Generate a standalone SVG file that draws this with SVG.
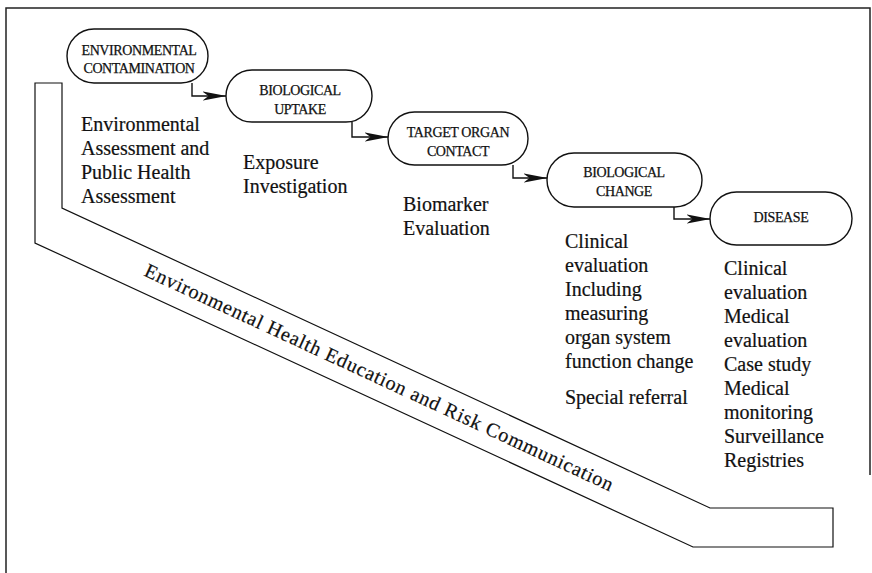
<svg xmlns="http://www.w3.org/2000/svg" width="872" height="573" viewBox="0 0 872 573">
<style>
  .node rect { fill: #fff; stroke: #111; stroke-width: 1.4; }
  .nl { font-family: "Liberation Serif", "Times New Roman", serif; font-size: 14px; letter-spacing: -0.4px; fill: #111; stroke: #111; stroke-width: 0.25; text-anchor: middle; }
  .body { font-family: "Liberation Serif", "Times New Roman", serif; font-size: 20px; fill: #111; stroke: #111; stroke-width: 0.2; }
  .band { fill: #fff; stroke: #111; stroke-width: 1.2; stroke-linejoin: miter; }
  .conn path { fill: none; stroke: #111; stroke-width: 1.4; }
  .frame { fill: none; stroke: #222; stroke-width: 1.5; }
</style>
<defs>
  <marker id="arr" viewBox="0 0 24 10" markerWidth="24" markerHeight="10" refX="23.5" refY="5" orient="auto" markerUnits="userSpaceOnUse">
    <path d="M0,0.5 L24,5 L0,9.5 L6,5 Z" fill="#111"/>
  </marker>
</defs>
<rect width="872" height="573" fill="#fff"/>
<path class="frame" d="M6,573 V8 H870 V475"/>

<g id="band">
  <polygon class="band" points="35,83 62,83 62,208 710,508 833,508 833,547 693,547 35,243"/>
  <text class="body" font-size="23" letter-spacing="0.8" text-anchor="middle" transform="translate(379,378.5) rotate(24.84)" x="0" y="5.5">Environmental Health Education and Risk Communication</text>
</g>

<g id="conn" class="conn">
  <path d="M192,83 V96 H226" marker-end="url(#arr)"/>
  <path d="M352,122 V137 H388" marker-end="url(#arr)"/>
  <path d="M513,165 V178 H547" marker-end="url(#arr)"/>
  <path d="M674,207 V219 H710" marker-end="url(#arr)"/>
</g>

<g id="n1" class="node">
  <rect x="67" y="29" width="141" height="54" rx="27"/>
  <text class="nl" x="139" y="55">ENVIRONMENTAL</text>
  <text class="nl" x="139" y="73">CONTAMINATION</text>
</g>
<g id="n2" class="node">
  <rect x="226" y="70" width="146" height="52" rx="26"/>
  <text class="nl" x="300" y="95">BIOLOGICAL</text>
  <text class="nl" x="300" y="114">UPTAKE</text>
</g>
<g id="n3" class="node">
  <rect x="388" y="112" width="140" height="53" rx="26.5"/>
  <text class="nl" x="458" y="137">TARGET ORGAN</text>
  <text class="nl" x="458" y="156">CONTACT</text>
</g>
<g id="n4" class="node">
  <rect x="547" y="153" width="155" height="54" rx="27"/>
  <text class="nl" x="624" y="177">BIOLOGICAL</text>
  <text class="nl" x="624" y="196">CHANGE</text>
</g>
<g id="n5" class="node">
  <rect x="710" y="192" width="142" height="53" rx="26.5"/>
  <text class="nl" x="781" y="222">DISEASE</text>
</g>

<g id="t1">
  <text class="body" x="81" y="131">Environmental</text>
  <text class="body" x="81" y="155">Assessment and</text>
  <text class="body" x="81" y="179">Public Health</text>
  <text class="body" x="81" y="203">Assessment</text>
</g>
<g id="t2">
  <text class="body" x="243" y="169">Exposure</text>
  <text class="body" x="243" y="193">Investigation</text>
</g>
<g id="t3">
  <text class="body" x="403" y="211">Biomarker</text>
  <text class="body" x="403" y="235">Evaluation</text>
</g>
<g id="t4">
  <text class="body" x="565" y="248">Clinical</text>
  <text class="body" x="565" y="272">evaluation</text>
  <text class="body" x="565" y="296">Including</text>
  <text class="body" x="565" y="320">measuring</text>
  <text class="body" x="565" y="344">organ system</text>
  <text class="body" x="565" y="368">function change</text>
  <text class="body" x="565" y="404">Special referral</text>
</g>
<g id="t5">
  <text class="body" x="724" y="275">Clinical</text>
  <text class="body" x="724" y="299">evaluation</text>
  <text class="body" x="724" y="323">Medical</text>
  <text class="body" x="724" y="347">evaluation</text>
  <text class="body" x="724" y="371">Case study</text>
  <text class="body" x="724" y="395">Medical</text>
  <text class="body" x="724" y="419">monitoring</text>
  <text class="body" x="724" y="443">Surveillance</text>
  <text class="body" x="724" y="467">Registries</text>
</g>
</svg>
